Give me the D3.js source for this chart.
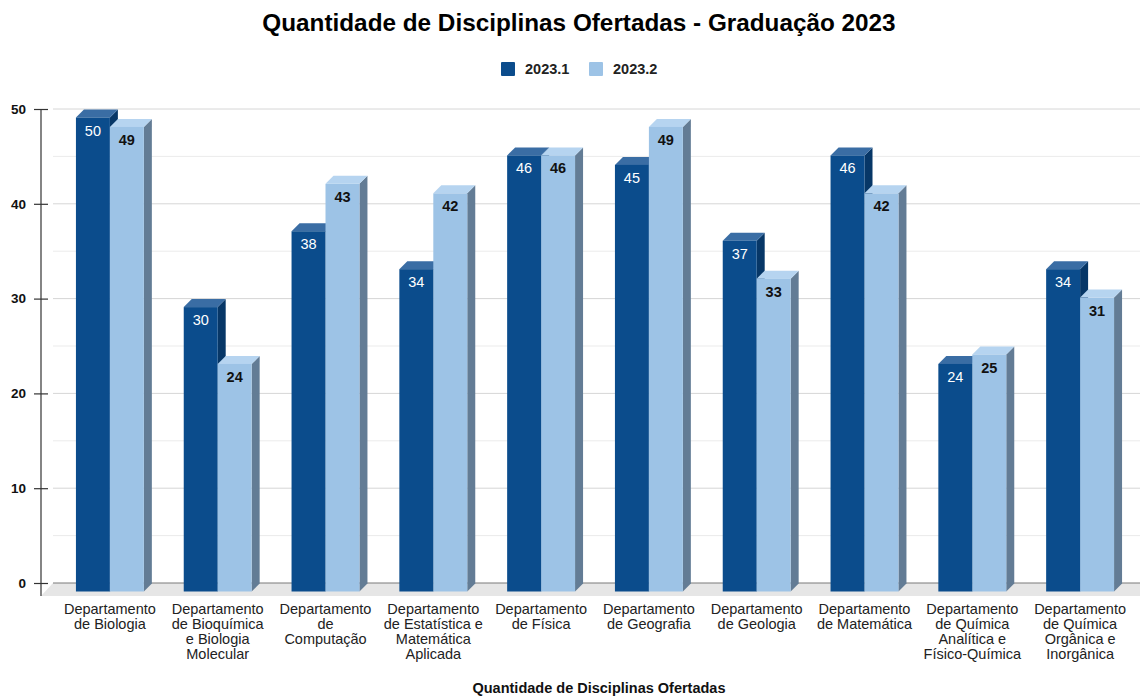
<!DOCTYPE html>
<html>
<head>
<meta charset="utf-8">
<script src="https://cdn.jsdelivr.net/npm/d3@7"></script>
<style>
  body { margin: 0; background: #fff; }
  svg { display: block; font-family: "Liberation Sans", Arial, sans-serif; }
</style>
</head>
<body>
<svg id="chart" width="1140" height="698"></svg>
<script>
// data
var categories = [
  'Departamento\nde Biologia',
  'Departamento\nde Bioquímica\ne Biologia\nMolecular',
  'Departamento\nde\nComputação',
  'Departamento\nde Estatística e\nMatemática\nAplicada',
  'Departamento\nde Física',
  'Departamento\nde Geografia',
  'Departamento\nde Geologia',
  'Departamento\nde Matemática',
  'Departamento\nde Química\nAnalítica e\nFísico-Química',
  'Departamento\nde Química\nOrgânica e\nInorgânica'
];
var seriesNames = ['2023.1', '2023.2'];
var values2023_1 = [50, 30, 38, 34, 46, 45, 37, 46, 24, 34];
var values2023_2 = [49, 24, 43, 42, 46, 49, 33, 42, 25, 31];
var yTicks = [0, 10, 20, 30, 40, 50];

var colors = {
  '2023.1': { front: '#0b4c8c', top: '#3a6da4', side: '#073767', label: '#ffffff', weight: 'normal' },
  '2023.2': { front: '#9dc3e6', top: '#b6d4f0', side: '#637c95', label: '#111111', weight: 'bold' }
};

var svg = d3.select('#chart');

var depthX = 8, depthY = 8, frontDrop = 8.5;
var floorLeft = 53, floorRight = 1140;

var y = d3.scaleLinear().domain([0, 50]).range([583, 109]);

var x0 = d3.scaleBand()
  .domain(categories)
  .range([56, 1134])
  .paddingInner(0.37)
  .paddingOuter(0.185);

var x1 = d3.scaleBand()
  .domain(seriesNames)
  .range([0, x0.bandwidth()])
  .padding(0);

// grid
var grid = svg.append('g');
grid.selectAll('line.minor')
  .data(y.ticks(10).filter(function (t) { return t % 10 !== 0; }))
  .enter().append('line')
  .attr('x1', floorLeft).attr('x2', floorRight)
  .attr('y1', function (d) { return y(d); })
  .attr('y2', function (d) { return y(d); })
  .attr('stroke', '#ebebeb').attr('stroke-width', 1);
grid.selectAll('line.major')
  .data(yTicks.filter(function (t) { return t !== 0; }))
  .enter().append('line')
  .attr('x1', floorLeft).attr('x2', floorRight)
  .attr('y1', function (d) { return y(d); })
  .attr('y2', function (d) { return y(d); })
  .attr('stroke', '#d6d6d6').attr('stroke-width', 1);

// floor
svg.append('path')
  .attr('d', 'M' + floorLeft + ',' + y(0) + 'L' + floorRight + ',' + y(0) +
    'L' + floorRight + ',' + (y(0) + 13) + 'L' + 41 + ',' + (y(0) + 13) + 'Z')
  .attr('fill', '#e6e6e6');
svg.append('line')
  .attr('x1', floorLeft).attr('x2', floorRight)
  .attr('y1', y(0)).attr('y2', y(0))
  .attr('stroke', '#7a7a7a').attr('stroke-width', 1.2);

// y axis
svg.append('line')
  .attr('x1', 41).attr('x2', 41)
  .attr('y1', y(50)).attr('y2', y(0) + 13)
  .attr('stroke', '#333').attr('stroke-width', 1.2);

var yAxis = svg.append('g')
  .attr('transform', 'translate(48,0)')
  .call(d3.axisLeft(y).tickValues(yTicks).tickSize(14).tickPadding(8));
yAxis.select('.domain').remove();
yAxis.selectAll('line').attr('stroke', '#333').attr('stroke-width', 1.2);
yAxis.selectAll('text')
  .attr('font-family', '"Liberation Sans", Arial, sans-serif')
  .attr('font-size', 13.5).attr('font-weight', 'bold').attr('fill', '#111');

// bars
var rows = categories.map(function (c, i) {
  return [
    { cat: c, key: '2023.1', value: values2023_1[i] },
    { cat: c, key: '2023.2', value: values2023_2[i] }
  ];
});

var groups = svg.selectAll('g.cat')
  .data(rows)
  .enter().append('g')
  .attr('class', 'cat')
  .attr('transform', function (d) { return 'translate(' + x0(d[0].cat) + ',0)'; });

var bars = groups.selectAll('g.bar')
  .data(function (d) { return d; })
  .enter().append('g')
  .attr('class', 'bar');

function geom(d) {
  var xl = x1(d.key), xr = xl + x1.bandwidth();
  var yt = y(d.value) + frontDrop, yb = y(0) + frontDrop;
  return { xl: xl, xr: xr, yt: yt, yb: yb };
}

bars.append('path')
  .attr('d', function (d) {
    var g = geom(d);
    return 'M' + g.xr + ',' + g.yt + 'L' + (g.xr + depthX) + ',' + (g.yt - depthY) +
      'L' + (g.xr + depthX) + ',' + (g.yb - depthY) + 'L' + g.xr + ',' + g.yb + 'Z';
  })
  .attr('fill', function (d) { return colors[d.key].side; });

bars.append('path')
  .attr('d', function (d) {
    var g = geom(d);
    return 'M' + g.xl + ',' + g.yt + 'L' + (g.xl + depthX) + ',' + (g.yt - depthY) +
      'L' + (g.xr + depthX) + ',' + (g.yt - depthY) + 'L' + g.xr + ',' + g.yt + 'Z';
  })
  .attr('fill', function (d) { return colors[d.key].top; });

bars.append('rect')
  .attr('x', function (d) { return geom(d).xl; })
  .attr('y', function (d) { return geom(d).yt; })
  .attr('width', x1.bandwidth())
  .attr('height', function (d) { var g = geom(d); return g.yb - g.yt; })
  .attr('fill', function (d) { return colors[d.key].front; });

bars.append('text')
  .attr('x', function (d) { return x1(d.key) + x1.bandwidth() / 2; })
  .attr('y', function (d) { return geom(d).yt + 18; })
  .attr('text-anchor', 'middle')
  .attr('font-size', 14.5)
  .attr('font-weight', function (d) { return colors[d.key].weight; })
  .attr('fill', function (d) { return colors[d.key].label; })
  .text(function (d) { return d.value; });

// category labels
var xLabels = svg.selectAll('text.cat')
  .data(categories)
  .enter().append('text')
  .attr('class', 'cat')
  .attr('x', function (d) { return x0(d) + x0.bandwidth() / 2; })
  .attr('y', 614)
  .attr('text-anchor', 'middle')
  .attr('font-size', 14.5)
  .attr('fill', '#222');
xLabels.selectAll('tspan')
  .data(function (d) { return d.split('\n'); })
  .enter().append('tspan')
  .attr('x', function () { var p = this.parentNode; return p.getAttribute('x'); })
  .attr('dy', function (d, i) { return i === 0 ? 0 : 15; })
  .text(function (d) { return d; });

// title
svg.append('text')
  .attr('x', 579).attr('y', 31)
  .attr('text-anchor', 'middle')
  .attr('font-size', 24.3).attr('font-weight', 'bold').attr('fill', '#000')
  .text('Quantidade de Disciplinas Ofertadas - Graduação 2023');

// axis title
svg.append('text')
  .attr('x', 599).attr('y', 693)
  .attr('text-anchor', 'middle')
  .attr('font-size', 14.5).attr('font-weight', 'bold').attr('fill', '#111')
  .text('Quantidade de Disciplinas Ofertadas');

// legend
var legendX = [501, 589];
var legend = svg.selectAll('g.legend')
  .data(seriesNames)
  .enter().append('g')
  .attr('class', 'legend')
  .attr('transform', function (d, i) { return 'translate(' + legendX[i] + ',62)'; });
legend.append('rect')
  .attr('width', 14).attr('height', 14).attr('rx', 1)
  .attr('fill', function (d) { return colors[d].front; });
legend.append('text')
  .attr('x', 24).attr('y', 12)
  .attr('font-size', 14.5).attr('font-weight', 'bold').attr('fill', '#222')
  .text(function (d) { return d; });
</script>
</body>
</html>
